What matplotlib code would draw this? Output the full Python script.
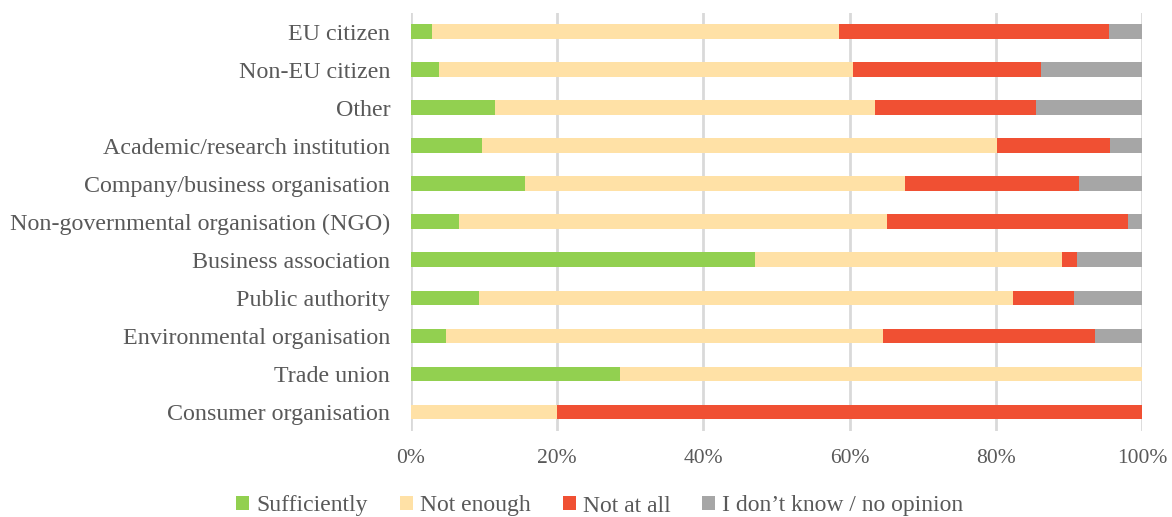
import numpy as np
import matplotlib.pyplot as plt
from matplotlib.ticker import PercentFormatter

# Respondent types (top to bottom) and share of answers per category, in %
groups = ["EU citizen", "Non-EU citizen", "Other", "Academic/research institution",
          "Company/business organisation", "Non-governmental organisation (NGO)",
          "Business association", "Public authority", "Environmental organisation",
          "Trade union", "Consumer organisation"]
sufficiently = [2.9, 3.8, 11.5, 9.7, 15.6, 6.6, 47.0, 9.3, 4.8, 28.6, 0.0]
not_enough = [55.6, 56.7, 52.0, 70.5, 52.0, 58.5, 42.1, 73.1, 59.8, 71.4, 20.0]
not_at_all = [37.0, 25.7, 22.0, 15.4, 23.8, 33.0, 2.0, 8.3, 29.0, 0.0, 80.0]
dont_know = [4.5, 13.8, 14.5, 4.4, 8.6, 1.9, 8.9, 9.3, 6.4, 0.0, 0.0]

series = [("Sufficiently", sufficiently, "#92D050"),
          ("Not enough", not_enough, "#FFE1A6"),
          ("Not at all", not_at_all, "#F05033"),
          ("I don\u2019t know / no opinion", dont_know, "#A6A6A6")]

plt.rcParams['font.family'] = ['Liberation Serif', 'DejaVu Serif']
txt = "#595959"

fig = plt.figure(figsize=(11.72, 5.17), dpi=100)
ax = fig.add_axes([0.3507, 0.1663, 0.6237, 0.8091])

y = np.arange(len(groups))
left = np.zeros(len(groups))
for name, vals, col in series:
    vals = np.array(vals)
    ax.barh(y, vals, left=left, height=0.39, color=col, label=name, zorder=3)
    left += vals

ax.set_xlim(0, 100)
ax.set_ylim(len(groups) - 0.5, -0.5)
ax.set_xticks(np.arange(0, 101, 20))
ax.xaxis.set_major_formatter(PercentFormatter(decimals=0))
ax.set_yticks(y)
ax.set_yticklabels(groups)
ax.grid(axis='x', color="#D9D9D9", linewidth=2, zorder=0)
for s in ax.spines.values():
    s.set_visible(False)
ax.tick_params(axis='both', length=0, colors=txt)
ax.tick_params(axis='x', pad=13, labelsize=15.5)
ax.tick_params(axis='y', pad=15, labelsize=17.3)

handles, labels = ax.get_legend_handles_labels()
leg = fig.legend(handles, labels, loc='center', bbox_to_anchor=(600 / 1172, 1 - 506 / 517),
                 ncol=4, frameon=False, fontsize=17, handlelength=0.55, handleheight=0.55,
                 handletextpad=0.3, columnspacing=1.35)
for t in leg.get_texts():
    t.set_color(txt)

fig.savefig("out.png", dpi=100)
